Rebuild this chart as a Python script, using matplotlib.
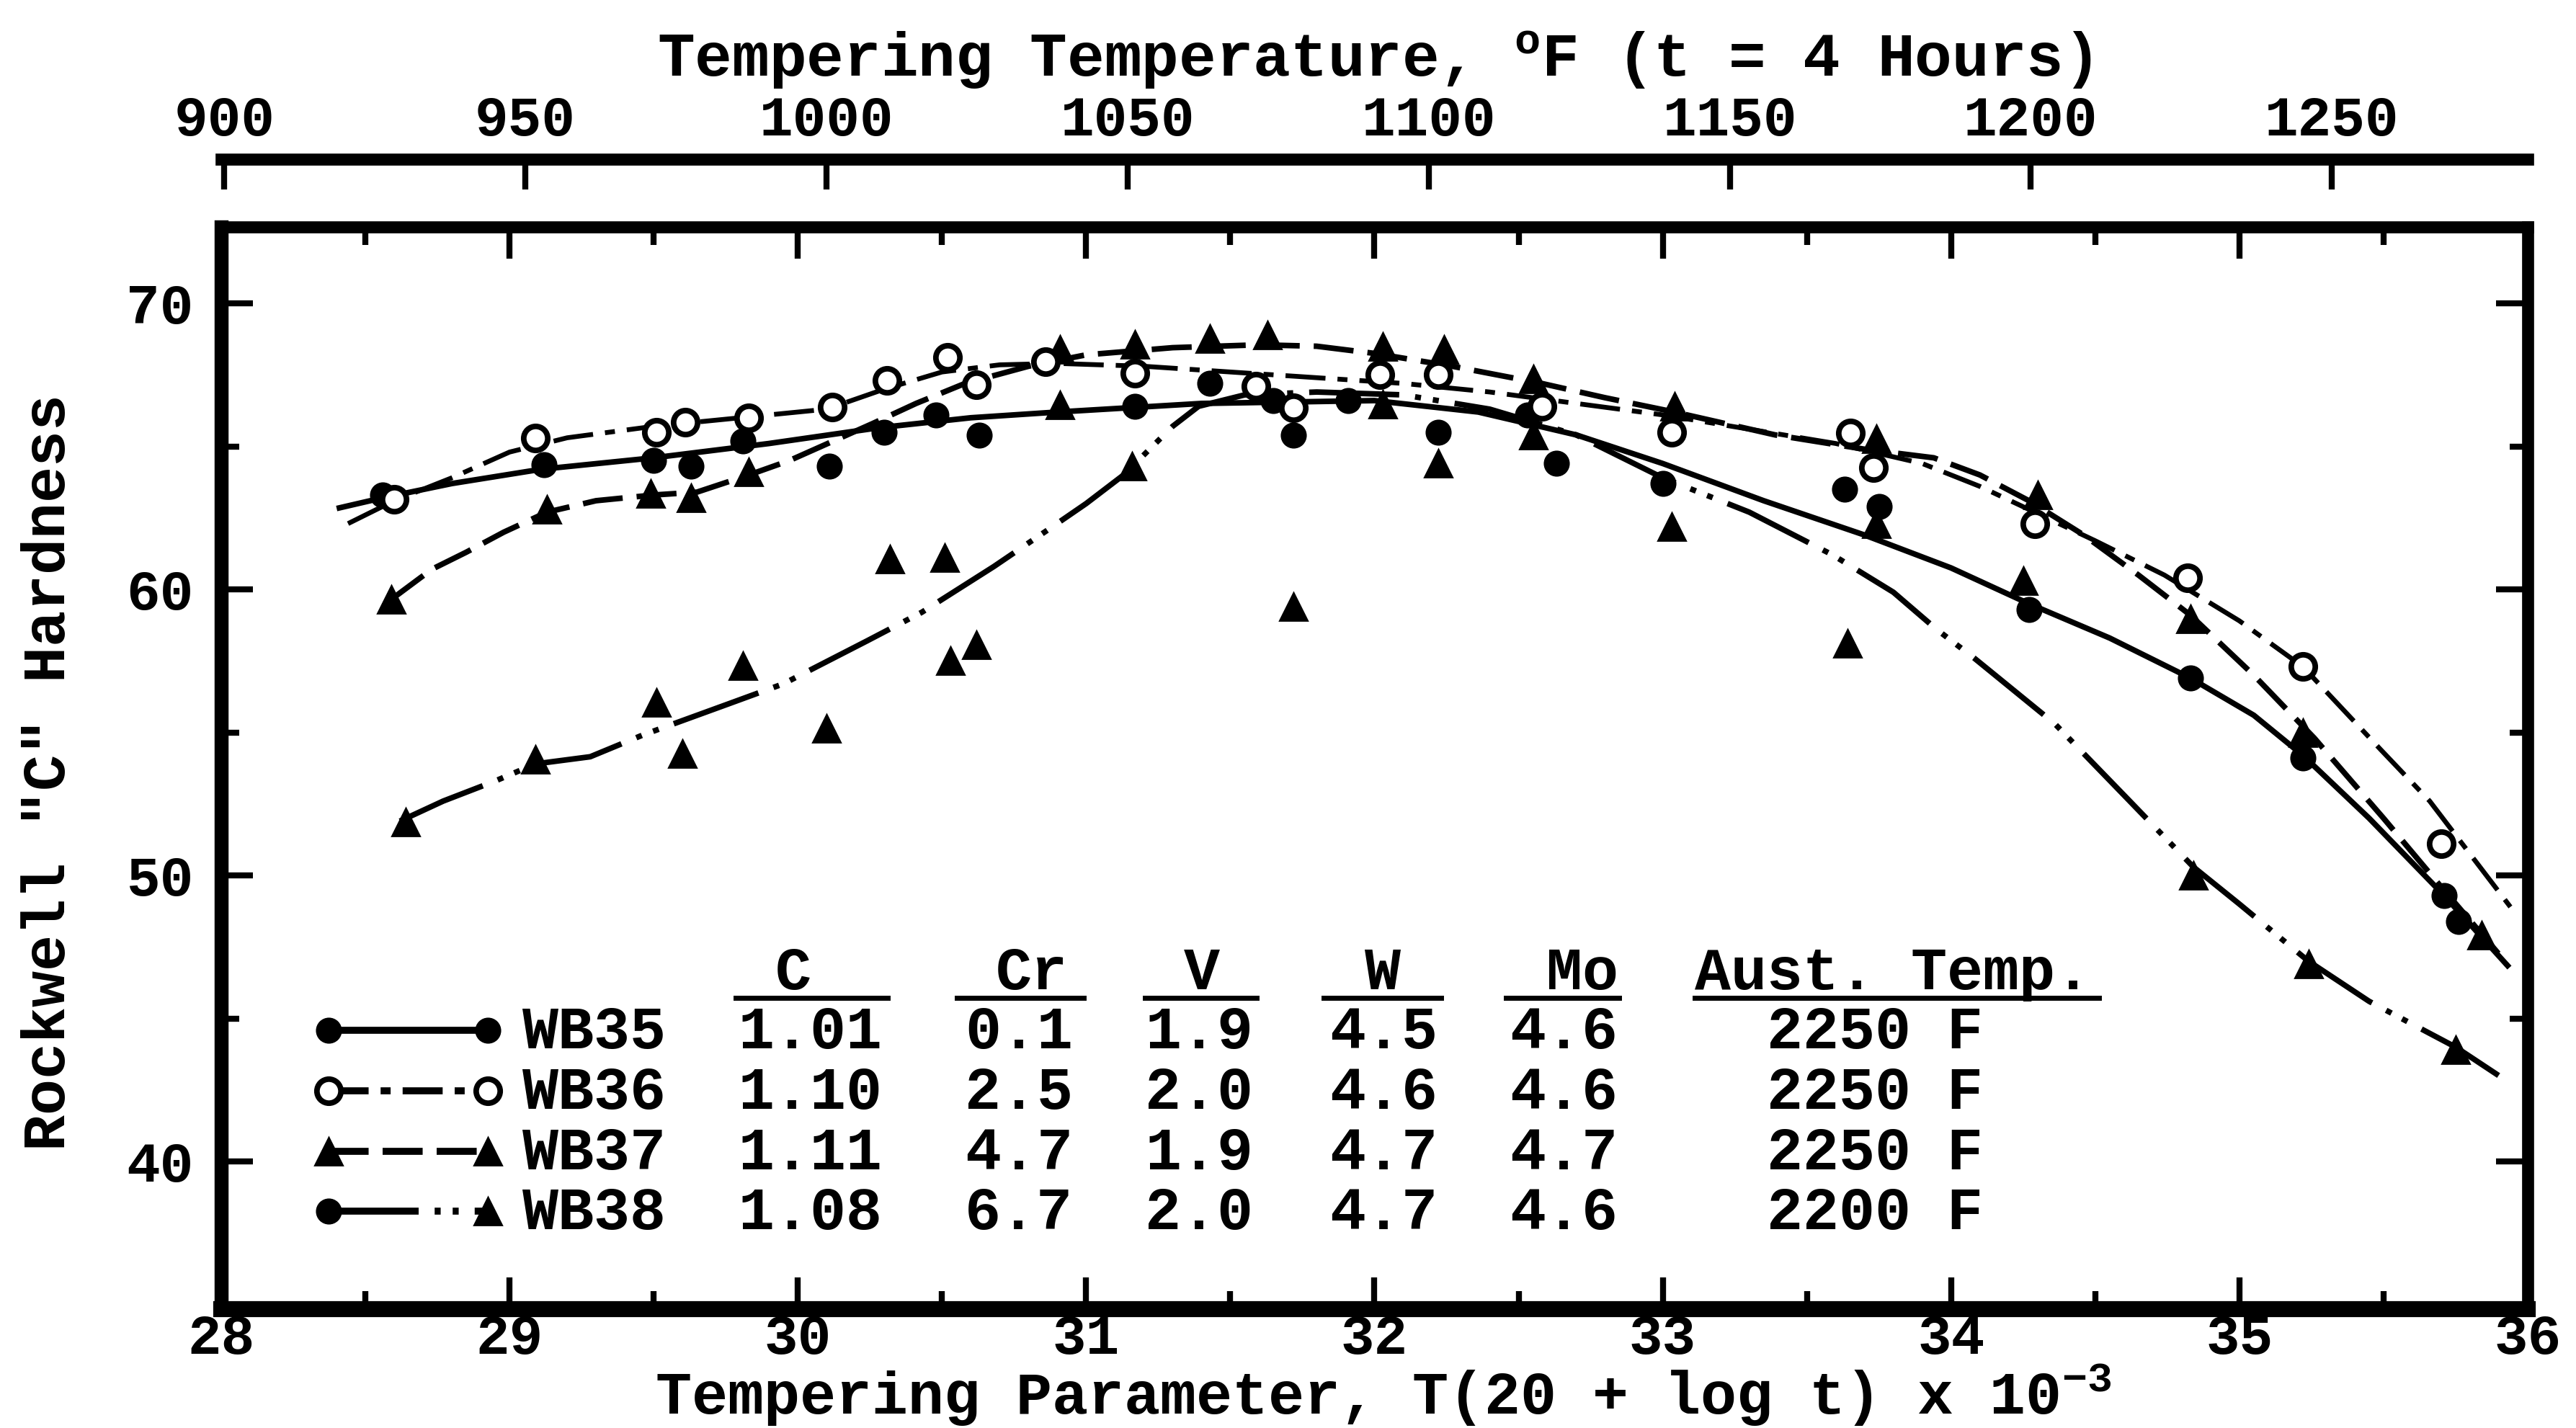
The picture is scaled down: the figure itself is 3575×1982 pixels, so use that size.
import matplotlib
matplotlib.use("Agg")
import matplotlib.pyplot as plt
from matplotlib.ticker import FixedLocator

plt.rcParams["font.family"] = ["Liberation Mono", "DejaVu Sans Mono"]
plt.rcParams["font.weight"] = "bold"
plt.rcParams["mathtext.fontset"] = "custom"
plt.rcParams["mathtext.rm"] = "Liberation Mono:bold"
plt.rcParams["mathtext.it"] = "Liberation Mono:bold"
plt.rcParams["mathtext.bf"] = "Liberation Mono:bold"
plt.rcParams["lines.scale_dashes"] = False

# ---- data (tempering parameter, HRC) ----
wb35_p = [28.56, 29.12, 29.50, 29.63, 29.81, 30.11, 30.30, 30.48, 30.63, 31.17, 31.43,
          31.65, 31.72, 31.91, 32.22, 32.53, 32.63, 33.00, 33.63, 33.75, 34.27, 34.83,
          35.22, 35.71, 35.76]
wb35_h = [63.3, 64.35, 64.5, 64.3, 65.2, 64.3, 65.5, 66.1, 65.4, 66.4, 67.2,
          66.6, 65.4, 66.6, 65.5, 66.1, 64.4, 63.7, 63.5, 62.9, 59.3, 56.9,
          54.1, 49.3, 48.4]
wb35_curve_p = [28.41, 28.56, 28.8, 29.11, 29.5, 29.9, 30.28, 30.6, 30.9, 31.4, 32.0,
                32.36, 32.7, 33.0, 33.35, 33.7, 34.0, 34.27, 34.55, 34.83, 35.05, 35.22,
                35.45, 35.71, 35.93]
wb35_curve_h = [62.85, 63.2, 63.7, 64.2, 64.6, 65.1, 65.65, 66.0, 66.2, 66.5, 66.6,
                66.2, 65.4, 64.4, 63.1, 61.9, 60.75, 59.5, 58.3, 56.9, 55.6, 54.2,
                52.0, 49.3, 46.85]

wb36_p = [28.60, 29.09, 29.51, 29.61, 29.83, 30.12, 30.31, 30.52, 30.62, 30.86, 31.17,
          31.59, 31.72, 32.02, 32.22, 32.58, 33.03, 33.65, 33.73, 34.29, 34.82, 35.22,
          35.70]
wb36_h = [63.15, 65.3, 65.5, 65.85, 66.0, 66.37, 67.3, 68.1, 67.15, 67.96, 67.56,
          67.1, 66.35, 67.5, 67.5, 66.4, 65.5, 65.47, 64.26, 62.3, 60.4, 57.3,
          51.1]
wb36_curve_p = [28.44, 28.6, 28.8, 29.0, 29.2, 29.5, 29.8, 30.1, 30.3, 30.5, 30.7,
                30.9, 31.2, 31.5, 31.8, 32.1, 32.4, 32.7, 33.0, 33.3, 33.6, 33.9,
                34.1, 34.29, 34.5, 34.74, 35.0, 35.22, 35.49, 35.66, 35.94]
wb36_curve_h = [62.3, 63.1, 63.9, 64.8, 65.3, 65.7, 66.0, 66.3, 67.0, 67.6, 67.85,
                67.9, 67.8, 67.6, 67.4, 67.2, 66.9, 66.5, 66.1, 65.6, 65.1, 64.4,
                63.6, 62.7, 61.7, 60.5, 58.9, 57.3, 54.4, 52.6, 48.9]

wb37_p = [28.59, 29.13, 29.49, 29.63, 29.83, 30.91, 31.17, 31.43, 31.63, 32.03, 32.24,
          32.55, 33.04, 33.74, 34.30, 34.83, 35.22, 35.84]
wb37_h = [59.65, 62.8, 63.35, 63.2, 64.1, 68.4, 68.56, 68.77, 68.9, 68.5, 68.4,
          67.35, 66.4, 65.26, 63.3, 58.97, 55.0, 47.9]
wb37_curve_p = [28.59, 28.73, 28.85, 28.98, 29.13, 29.3, 29.5, 29.65, 29.83, 29.97, 30.26,
                30.41, 30.58, 30.8, 31.0, 31.3, 31.6, 31.8, 32.0, 32.27, 32.58, 32.8,
                33.04, 33.39, 33.7, 33.94, 34.1, 34.27, 34.46, 34.65, 34.83, 35.05,
                35.26, 35.5, 35.7, 35.93]
wb37_curve_h = [59.65, 60.7, 61.3, 62.0, 62.7, 63.1, 63.3, 63.4, 64.0, 64.5, 65.8,
                66.5, 67.2, 67.8, 68.2, 68.45, 68.55, 68.5, 68.25, 67.8, 67.2, 66.7,
                66.2, 65.4, 64.9, 64.6, 64.0, 63.1, 61.9, 60.5, 59.1, 57.0,
                54.8, 52.0, 49.6, 46.9]

wb38_p = [28.64, 29.09, 29.51, 29.60, 29.81, 30.10, 30.32, 30.51, 30.53, 30.62, 30.91,
          31.16, 31.72, 32.03, 32.22, 32.55, 33.03, 33.64, 33.74, 34.25, 34.84, 35.24,
          35.75]
wb38_h = [51.86, 54.06, 56.05, 54.26, 57.33, 55.14, 61.06, 61.1, 57.5, 58.06, 66.45,
          64.3, 59.4, 66.47, 64.4, 65.4, 62.2, 58.1, 62.3, 60.3, 50.0, 46.9,
          43.9]
wb38_curve_p = [28.62, 28.77, 28.95, 29.09, 29.28, 29.46, 29.76, 29.95, 30.24, 30.43, 30.68,
                30.87, 31.0, 31.13, 31.22, 31.3, 31.39, 31.55, 31.8, 32.1, 32.4, 32.7,
                33.0, 33.3, 33.59, 33.8, 33.95, 34.08, 34.36, 34.61, 34.84, 35.0,
                35.24, 35.45, 35.75, 35.93]
wb38_curve_h = [51.9, 52.6, 53.3, 53.9, 54.15, 54.9, 56.0, 56.7, 58.2, 59.2, 60.8,
                62.1, 63.0, 64.0, 64.9, 65.7, 66.4, 66.8, 66.9, 66.8, 66.3, 65.4,
                63.9, 62.7, 61.2, 59.9, 58.6, 57.6, 55.3, 52.7, 50.3, 49.0,
                47.0, 45.6, 44.0, 42.8]

steel_names = ["WB35", "WB36", "WB37", "WB38"]
comp_headers = ["C", "Cr", "V", "W", "Mo"]
comp_c = ["1.01", "1.10", "1.11", "1.08"]
comp_cr = ["0.1", "2.5", "4.7", "6.7"]
comp_v = ["1.9", "2.0", "1.9", "2.0"]
comp_w = ["4.5", "4.6", "4.7", "4.7"]
comp_mo = ["4.6", "4.6", "4.7", "4.6"]
aust_temp = ["2250 F", "2250 F", "2250 F", "2200 F"]

bottom_ticks = [28, 29, 30, 31, 32, 33, 34, 35, 36]
top_ticks = [900, 950, 1000, 1050, 1100, 1150, 1200, 1250]
y_ticks = [40, 50, 60, 70]

# ---- styles ----
K = "black"
dash_35 = "-"
dash_36 = (0, (20, 6, 5, 6))
dash_37 = (0, (20, 7))
dash_38 = (0, (45, 8, 3, 6, 3, 8))
circ_fill = dict(marker="o", ms=12, mfc=K, mec=K, ls="none")
circ_open = dict(marker="o", ms=12, mfc="white", mec=K, mew=2.8, ls="none")
tri_fill = dict(marker="^", ms=14, mfc=K, mec=K, ls="none")

fig = plt.figure(figsize=(17.875, 9.91), dpi=200)
ax = fig.add_axes([0.08587, 0.08325, 0.89538, 0.75782])

ax.plot(wb35_curve_p, wb35_curve_h, color=K, lw=2.8, ls=dash_35, zorder=2)
ax.plot(wb36_curve_p, wb36_curve_h, color=K, lw=2.4, ls=dash_36, zorder=2)
ax.plot(wb37_curve_p, wb37_curve_h, color=K, lw=2.8, ls=dash_37, zorder=2)
ax.plot(wb38_curve_p, wb38_curve_h, color=K, lw=2.8, ls=dash_38, zorder=2)

ax.plot(wb38_p, wb38_h, zorder=3, **tri_fill)
ax.plot(wb37_p, wb37_h, zorder=3, **tri_fill)
ax.plot(wb35_p, wb35_h, zorder=4, **circ_fill)
ax.plot(wb36_p, wb36_h, zorder=5, **circ_open)

ax.set_xlim(28, 36)
ax.set_ylim(34.84, 72.67)
ax.xaxis.set_major_locator(FixedLocator(bottom_ticks))
ax.xaxis.set_minor_locator(FixedLocator([t + 0.5 for t in bottom_ticks[:-1]]))
ax.yaxis.set_major_locator(FixedLocator(y_ticks))
ax.yaxis.set_minor_locator(FixedLocator([t + 5 for t in y_ticks[:-1]]))
ax.set_xticklabels([str(t) for t in bottom_ticks])
ax.tick_params(which="both", direction="in", top=True, right=True, width=3, labelsize=28)
ax.tick_params(which="major", length=16)
ax.tick_params(which="minor", length=9)
ax.tick_params(axis="x", pad=2)
ax.tick_params(axis="y", pad=14)
ax.spines["bottom"].set_linewidth(8)
ax.spines["left"].set_linewidth(7)
ax.spines["top"].set_linewidth(6)
ax.spines["right"].set_linewidth(6)

# ---- top temperature scale ----
top_edge = 1 - 221 / 1982
ax2 = fig.add_axes([0.08587, top_edge - 0.01, 0.89538, 0.01])
ax2.set_xlim(899.5, 1282.5)
ax2.set_xticks(top_ticks)
ax2.set_yticks([])
ax2.xaxis.set_ticks_position("top")
ax2.tick_params(axis="x", direction="in", length=15, width=3, labelsize=28, pad=6)
for side in ["bottom", "left", "right"]:
    ax2.spines[side].set_visible(False)
ax2.spines["top"].set_linewidth(6)
ax2.patch.set_visible(False)

fig.text(0.5334, 1 - 106 / 1982, "Tempering Temperature, $^{\\mathrm{o}}$F (t = 4 Hours)",
         fontsize=31, ha="center", va="baseline")
fig.text(0.537, 0.010, "Tempering Parameter, T(20 + log t) x 10$^{-3}$",
         fontsize=30, ha="center", va="baseline")
fig.text(0.019, 1 - 1072 / 1982, 'Rockwell "C" Hardness', fontsize=30,
         rotation=90, ha="center", va="center")

# ---- composition table / key ----
tr = ax.transAxes
row_mid = [0.2577, 0.2017, 0.1458, 0.0905]
row_base = [0.2410, 0.1851, 0.1292, 0.0739]
head_base = 0.2956
head_line = 0.2873
head_x = [0.248, 0.3514, 0.425, 0.5035, 0.590]
col_x = [0.2553, 0.3458, 0.424, 0.504, 0.582]
under = [(0.223, 0.289), (0.319, 0.374), (0.4005, 0.449), (0.478, 0.529), (0.557, 0.606)]

for hx, name, (u0, u1) in zip(head_x, comp_headers, under):
    ax.text(hx, head_base, name, transform=tr, fontsize=30, ha="center", va="baseline")
    ax.plot([u0, u1], [head_line, head_line], transform=tr, color=K, lw=2.5, clip_on=False)
ax.text(0.639, head_base, "Aust. Temp.", transform=tr, fontsize=30, ha="left", va="baseline")
ax.plot([0.639, 0.814], [head_line, head_line], transform=tr, color=K, lw=2.5)

key_styles = [
    (dash_35, circ_fill, circ_fill),
    (dash_36, circ_open, circ_open),
    (dash_37, tri_fill, tri_fill),
    (dash_38, circ_fill, tri_fill),
]
cols = [comp_c, comp_cr, comp_v, comp_w, comp_mo]
for i, name in enumerate(steel_names):
    ls, m_left, m_right = key_styles[i]
    ym = row_mid[i]
    ax.plot([0.0466, 0.1156], [ym, ym], transform=tr, color=K, lw=3.5, ls=ls)
    ax.plot([0.0466], [ym], transform=tr, **m_left)
    ax.plot([0.1156], [ym], transform=tr, **m_right)
    ax.text(0.1306, row_base[i], name, transform=tr, fontsize=30, ha="left", va="baseline")
    for cx, col in zip(col_x, cols):
        ax.text(cx, row_base[i], col[i], transform=tr, fontsize=30, ha="center", va="baseline")
    ax.text(0.670, row_base[i], aust_temp[i], transform=tr, fontsize=30, ha="left", va="baseline")

fig.savefig("out.png", dpi=200)
